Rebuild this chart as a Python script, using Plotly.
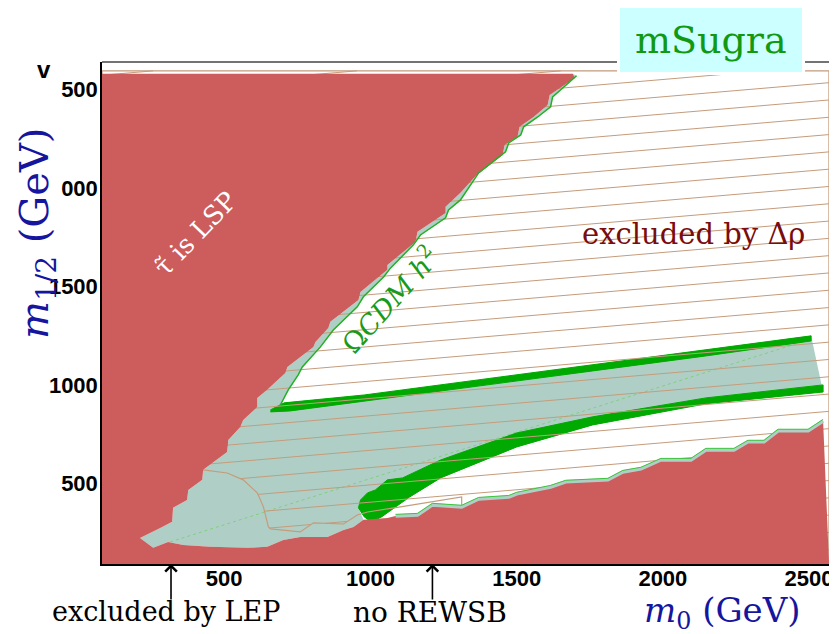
import numpy as np
import plotly.graph_objects as go

# ---------------- data (GeV) ----------------
X_RANGE = [82, 2575]
Y_RANGE = [91, 2639]
X_TICKS = [500, 1000, 1500, 2000, 2500]
Y_TICKS = [500, 1000, 1500, 2000, 2500]

# stau-LSP boundary (top -> bottom)
STAU_M0 = [1692, 1699, 1613, 1606, 1558, 1510, 1503, 1459, 1452, 1363, 1308, 1257, 1257, 1161, 1154,
           1058, 1058, 966, 959, 863, 856, 812, 805, 716, 709, 647, 613, 613, 565, 562, 555, 514, 510,
           428, 425, 377, 373, 325, 322, 288, 212]
STAU_M12 = [2579, 2558, 2472, 2421, 2360, 2310, 2259, 2218, 2167, 2066, 1975, 1904, 1873, 1777, 1726,
            1609, 1584, 1472, 1431, 1320, 1289, 1218, 1193, 1091, 1061, 975, 934, 888, 822, 812, 787,
            721, 660, 569, 518, 467, 416, 376, 305, 279, 223]
# lower edge of LEP-excluded (teal) region (left -> right)
LEP_M0 = [257, 308, 360, 452, 579, 647, 702, 760, 853, 908, 942, 976]
LEP_M12 = [173, 203, 188, 178, 173, 178, 213, 228, 228, 264, 279, 315]
# no-REWSB boundary (left -> right)
REWSB_M0 = [1058, 1086, 1161, 1212, 1312, 1370, 1473, 1500, 1616, 1668, 1812, 1863, 1925, 1993,
            2096, 2147, 2243, 2291, 2346, 2394, 2497, 2548, 2568]
REWSB_M12 = [325, 335, 340, 391, 381, 421, 431, 447, 482, 508, 518, 558, 574, 619, 619, 670, 670,
             711, 711, 767, 767, 817, 102]
# Omega h^2 contour along the stau boundary (bottom -> top)
OMEGA_M0 = [692, 702, 719, 753, 767, 829, 873, 955, 976, 1045, 1069, 1147, 1171, 1257, 1267, 1308,
            1370, 1462, 1473, 1514, 1524, 1572, 1616, 1623, 1705]
OMEGA_M12 = [898, 924, 975, 1051, 1091, 1193, 1279, 1396, 1447, 1548, 1594, 1711, 1761, 1848, 1888,
             1939, 2076, 2183, 2228, 2269, 2310, 2360, 2411, 2462, 2569]
# upper WMAP band
UPBAND_TOP_M0 = [658, 705, 979, 1370, 1760, 2147, 2507]
UPBAND_TOP_M12 = [873, 909, 949, 1025, 1102, 1178, 1249]
UPBAND_BOT_M0 = [658, 726, 979, 1370, 1760, 2147, 2507]
UPBAND_BOT_M12 = [863, 868, 919, 995, 1071, 1147, 1223]
# lower WMAP band
LOWBAND_TOP_M0 = [959, 966, 990, 1017, 1058, 1110, 1240, 1500, 1760, 2147, 2548]
LOWBAND_TOP_M12 = [376, 416, 452, 467, 518, 528, 619, 756, 838, 934, 1000]
LOWBAND_BOT_M0 = [959, 979, 1003, 1038, 1082, 1134, 1240, 1500, 1760, 2147, 2548]
LOWBAND_BOT_M12 = [376, 330, 305, 330, 376, 431, 528, 685, 797, 904, 964]
# Delta-rho excluded (hatched) region
HATCH_M0 = [82, 2568, 2568, 1312, 1312, 1212, 1103, 990, 955, 908, 805, 760, 658, 651, 634, 613,
            565, 510, 428, 82]
HATCH_M12 = [2594, 2594, 102, 102, 431, 406, 381, 355, 340, 294, 300, 254, 269, 279, 381, 452,
             518, 553, 569, 569]
HATCH_SLOPE = 0.126      # dm12/dm0 of hatch lines
HATCH_STEP = 87.8        # spacing in m12
HATCH_ANCHOR = (2568, 2534)
# faint diagonal contour
DIAG_M0 = [315, 2497]
DIAG_M12 = [203, 1228]
# arrows
LEP_ARROW_M0 = 318
REWSB_ARROW_M0 = 1212

# ---------------- colours ----------------
RED = "#cd5c5c"
TEAL = "#afcfc6"
BAND = "#00aa00"
HATCH = "#c49c7c"
LGREEN = "#3cc43c"
BLUE = "#15159e"
SERIF = "DejaVu Serif"

# page body adds an 8px margin, so the figure is 8px smaller than the window
W, H = 829, 626
L, R, T, B = 94, 6, 54, 70
PW, PH = W - L - R, H - T - B
RL, RB = 102, 564   # reference pixel position of plot left / bottom


def px2x(px):
    return (px - RL) / PW


def py2y(py):
    return (RB - py) / PH


def clip_line(polx, poly, a, b):
    xs = []
    n = len(polx)
    for i in range(n):
        x1, y1 = polx[i], poly[i]
        x2, y2 = polx[(i + 1) % n], poly[(i + 1) % n]
        f1 = y1 - (a + b * x1)
        f2 = y2 - (a + b * x2)
        if (f1 > 0) != (f2 > 0):
            t = f1 / (f1 - f2)
            xs.append(x1 + t * (x2 - x1))
    xs.sort()
    return [(xs[i], xs[i + 1]) for i in range(0, len(xs) - 1, 2)]


fig = go.Figure()

# teal (LEP excluded) region
teal_x = STAU_M0 + LEP_M0 + LOWBAND_BOT_M0 + UPBAND_TOP_M0[::-1] + OMEGA_M0
teal_y = STAU_M12 + LEP_M12 + LOWBAND_BOT_M12 + UPBAND_TOP_M12[::-1] + OMEGA_M12
fig.add_trace(go.Scatter(x=teal_x, y=teal_y, fill="toself", fillcolor=TEAL, mode="none",
                         hoverinfo="skip"))
fig.add_trace(go.Scatter(x=DIAG_M0, y=DIAG_M12, mode="lines",
                         line=dict(color="#7fd07f", width=1, dash="dot"), hoverinfo="skip"))

# WMAP bands
for tx, ty, bx, by in [(UPBAND_TOP_M0, UPBAND_TOP_M12, UPBAND_BOT_M0, UPBAND_BOT_M12),
                       (LOWBAND_TOP_M0, LOWBAND_TOP_M12, LOWBAND_BOT_M0, LOWBAND_BOT_M12)]:
    fig.add_trace(go.Scatter(x=tx + bx[::-1], y=ty + by[::-1], fill="toself", fillcolor=BAND,
                             mode="lines", line=dict(color=BAND, width=1), hoverinfo="skip"))

# hatch lines of the Delta-rho region
hx, hy = [], []
a0 = HATCH_ANCHOR[1] - HATCH_SLOPE * HATCH_ANCHOR[0]
for k in range(-10, 60):
    a = a0 - k * HATCH_STEP
    for x0, x1 in clip_line(HATCH_M0, HATCH_M12, a, HATCH_SLOPE):
        hx += [x0, x1, None]
        hy += [a + HATCH_SLOPE * x0, a + HATCH_SLOPE * x1, None]
fig.add_trace(go.Scatter(x=hx, y=hy, mode="lines", line=dict(color=HATCH, width=1),
                         hoverinfo="skip"))
fig.add_trace(go.Scatter(x=HATCH_M0 + HATCH_M0[:1], y=HATCH_M12 + HATCH_M12[:1], mode="lines",
                         line=dict(color=HATCH, width=1.2), hoverinfo="skip"))

# red excluded regions (stau LSP + no REWSB)
red_x = [X_RANGE[0]] + STAU_M0 + LEP_M0 + REWSB_M0 + [2568, X_RANGE[0]]
red_y = [STAU_M12[0]] + STAU_M12 + LEP_M12 + REWSB_M12 + [Y_RANGE[0], Y_RANGE[0]]
fig.add_trace(go.Scatter(x=red_x, y=red_y, fill="toself", fillcolor=RED, mode="none",
                         hoverinfo="skip"))

# boundary lines
fig.add_trace(go.Scatter(x=REWSB_M0[1:-1], y=REWSB_M12[1:-1], mode="lines",
                         line=dict(color=TEAL, width=3.5), hoverinfo="skip"))
fig.add_trace(go.Scatter(x=REWSB_M0[1:-1], y=[v + 8 for v in REWSB_M12[1:-1]], mode="lines",
                         line=dict(color=LGREEN, width=1), hoverinfo="skip"))
fig.add_trace(go.Scatter(x=OMEGA_M0, y=OMEGA_M12, mode="lines",
                         line=dict(color="#22b022", width=1.5), hoverinfo="skip"))

axis_common = dict(showgrid=False, zeroline=False, showline=True, linecolor="black",
                   linewidth=1.5, ticks="", automargin=False,
                   tickfont=dict(family="Liberation Sans", size=22, color="black", weight="bold"))
fig.update_xaxes(range=X_RANGE, tickvals=X_TICKS, ticklabelstandoff=-6, **axis_common)
fig.update_yaxes(range=Y_RANGE, tickvals=Y_TICKS, ticklabelstandoff=-2, **axis_common)

shapes = [
    dict(type="rect", xref="paper", yref="paper", x0=px2x(0), x1=px2x(61), y0=py2y(250),
         y1=py2y(60), fillcolor="white", line=dict(width=0), layer="above"),
    dict(type="line", xref="paper", yref="paper", x0=0, x1=px2x(840), y0=1, y1=1,
         line=dict(color="#444444", width=1.5), layer="above"),
    dict(type="rect", xref="paper", yref="paper", x0=px2x(617), x1=px2x(805), y0=py2y(75),
         y1=py2y(2), fillcolor="white", line=dict(width=0), layer="above"),
    dict(type="rect", xref="paper", yref="paper", x0=px2x(620), x1=px2x(802), y0=py2y(72),
         y1=py2y(5), fillcolor="#ccffff", line=dict(width=0), layer="above"),
]

C = dict(xanchor="center", yanchor="middle", showarrow=False)
ann = [
    dict(x=px2x(711), y=py2y(40), xref="paper", yref="paper", text="mSugra",
         font=dict(family=SERIF, size=38, color="#129912"), **C),
    dict(x=2106, y=1766, xref="x", yref="y", text="excluded by Δρ",
         font=dict(family=SERIF, size=29, color="#7a0c0c"), **C),
    dict(x=401, y=1766, xref="x", yref="y", text="τ\u0303 is LSP", textangle=-46,
         font=dict(family=SERIF, size=26, color="white"), **C),
    dict(x=1065, y=1437, xref="x", yref="y", text="Ω<i>CDM h</i><sup>2</sup>", textangle=-48,
         font=dict(family=SERIF, size=27, color="#1a9a1a"), **C),
    dict(x=px2x(166), y=py2y(611), xref="paper", yref="paper", text="excluded by LEP",
         font=dict(family=SERIF, size=27, color="black"), **C),
    dict(x=px2x(430), y=py2y(612), xref="paper", yref="paper", text="no REWSB",
         font=dict(family=SERIF, size=28, color="black"), **C),
    dict(x=px2x(722), y=py2y(612), xref="paper", yref="paper",
         text="<i>m</i><sub>0</sub> (GeV)", font=dict(family=SERIF, size=34, color=BLUE), **C),
    dict(x=px2x(37), y=py2y(234), xref="paper", yref="paper",
         text="<i>m</i><sub>1/2</sub> (GeV)", textangle=-90,
         font=dict(family=SERIF, size=40, color=BLUE), **C),
    dict(x=px2x(44), y=py2y(70), xref="paper", yref="paper", text="v",
         font=dict(family="Liberation Sans", size=24, color="black", weight="bold"), **C),
    dict(x=LEP_ARROW_M0, y=0, xref="x", yref="paper", text="", showarrow=True, ax=0, ay=37,
         arrowhead=4, arrowsize=1.4, arrowwidth=1.6, arrowcolor="black"),
    dict(x=REWSB_ARROW_M0, y=0, xref="x", yref="paper", text="", showarrow=True, ax=0, ay=37,
         arrowhead=4, arrowsize=1.4, arrowwidth=1.6, arrowcolor="black"),
]

fig.update_layout(width=W, height=H, margin=dict(l=L, r=R, t=T, b=B, autoexpand=False),
                  paper_bgcolor="white", plot_bgcolor="white", showlegend=False,
                  shapes=shapes, annotations=ann)
fig.write_html("out.html")
